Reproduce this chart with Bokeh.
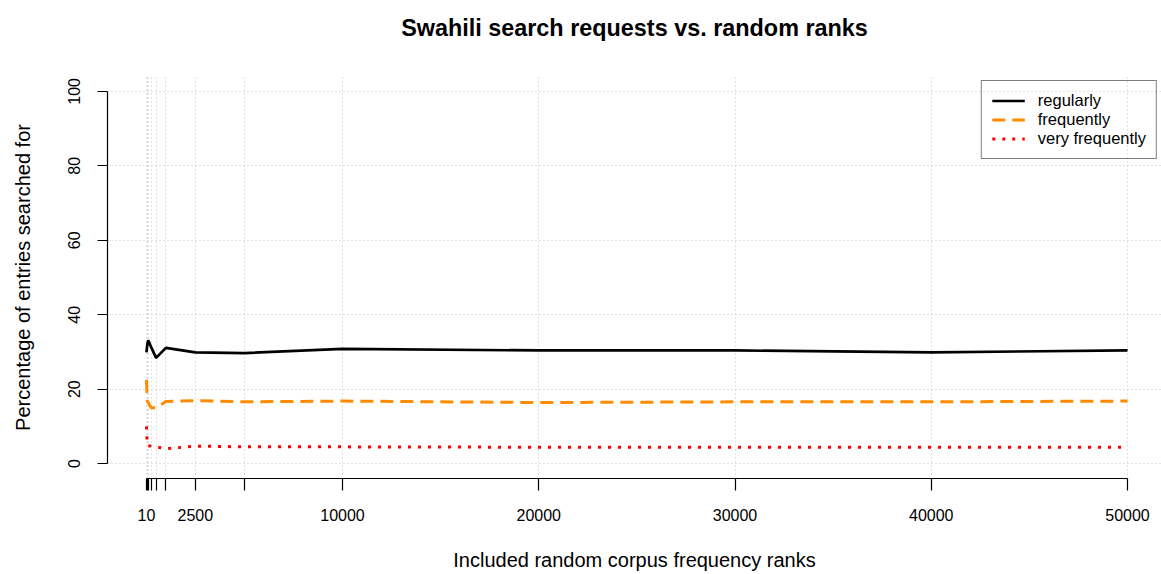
from bokeh.plotting import figure
from bokeh.models import (FixedTicker, CustomJSTickFormatter, Legend, LegendItem, Range1d, Title)
from bokeh.embed import file_html
from bokeh.resources import INLINE

# ---- data ----
ranks = [10, 50, 100, 250, 500, 1000, 2500, 5000, 10000, 20000, 30000, 40000, 50000]
regularly = [29.9, 31.9, 33.1, 31.3, 28.4, 31.1, 29.9, 29.7, 30.8, 30.4, 30.4, 29.9, 30.4]
frequently = [22.5, 16.9, 16.4, 15.0, 15.0, 16.7, 16.9, 16.6, 16.8, 16.4, 16.6, 16.6, 16.8]
very_frequently = [10.0, 5.0, 4.8, 4.7, 4.5, 4.0, 4.7, 4.5, 4.5, 4.4, 4.4, 4.4, 4.4]
labeled_ticks = [10, 2500, 10000, 20000, 30000, 40000, 50000]
y_ticks = [0, 20, 40, 60, 80, 100]
series_names = ["regularly", "frequently", "very frequently"]

title = "Swahili search requests vs. random ranks"
x_title = "Included random corpus frequency ranks"
y_title = "Percentage of entries searched for"

FONT = "Liberation Sans"

p = figure(width=1161, height=574, output_backend="svg", toolbar_location=None,
           x_range=Range1d(-1975, 51732), y_range=Range1d(-4, 104),
           min_border_left=107, min_border_right=0, min_border_top=76, min_border_bottom=96)
p.outline_line_color = None
p.background_fill_color = "white"
p.border_fill_color = "white"

# spacer between frame and title, then the title itself
p.add_layout(Title(text=" ", text_font=FONT, text_font_size="23px", standoff=0), "above")
p.add_layout(Title(text=title, align="center", text_font=FONT, text_font_size="23.4px",
                   text_font_style="bold", text_color="black", standoff=15, offset=-5), "above")

# grids
p.xgrid.ticker = FixedTicker(ticks=ranks)
p.ygrid.ticker = FixedTicker(ticks=y_ticks)
for g in (p.xgrid, p.ygrid):
    g.grid_line_color = "#c4c4c4"
    g.grid_line_width = 1
    g.grid_line_dash = "1 3"

# x axis
xa = p.xaxis[0]
xa.ticker = FixedTicker(ticks=ranks)
xa.bounds = (ranks[0], ranks[-1])
xa.formatter = CustomJSTickFormatter(args=dict(keep=labeled_ticks),
                                     code="return keep.includes(tick) ? String(tick) : '';")
xa.axis_label = x_title
# y axis
ya = p.yaxis[0]
ya.ticker = FixedTicker(ticks=y_ticks)
ya.bounds = (0, 100)
ya.major_label_orientation = "vertical"
ya.axis_label = y_title

for ax in (xa, ya):
    ax.axis_line_color = "black"
    ax.axis_line_width = 1.2
    ax.major_tick_line_color = "black"
    ax.major_tick_line_width = 1.2
    ax.major_tick_in = 0
    ax.minor_tick_line_color = None
    ax.major_label_text_font = FONT
    ax.major_label_text_font_size = "16px"
    ax.major_label_text_color = "black"
    ax.axis_label_text_font = FONT
    ax.axis_label_text_font_size = "20px"
    ax.axis_label_text_font_style = "normal"
    ax.axis_label_text_color = "black"

xa.major_tick_out = 12
xa.major_label_standoff = 18
xa.axis_label_standoff = 25
ya.major_tick_out = 10
ya.major_label_standoff = 17
ya.axis_label_standoff = 32

r1 = p.line(ranks, regularly, line_color="black", line_width=2.7)
r2 = p.line(ranks, frequently, line_color="#ff8c00", line_width=3, line_dash="13 7")
r3 = p.line(ranks, very_frequently, line_color="red", line_width=3, line_dash="3 7")

legend = Legend(items=[LegendItem(label=series_names[0], renderers=[r1]),
                       LegendItem(label=series_names[1], renderers=[r2]),
                       LegendItem(label=series_names[2], renderers=[r3])],
                location="top_right", margin=4, padding=10, spacing=0,
                glyph_width=33, glyph_height=17, label_height=17, label_standoff=13,
                label_text_font=FONT, label_text_font_size="16.5px", label_text_color="black",
                border_line_color="black", border_line_width=1,
                background_fill_alpha=0)
p.add_layout(legend)

open("out.html", "w").write(file_html(p, INLINE))
